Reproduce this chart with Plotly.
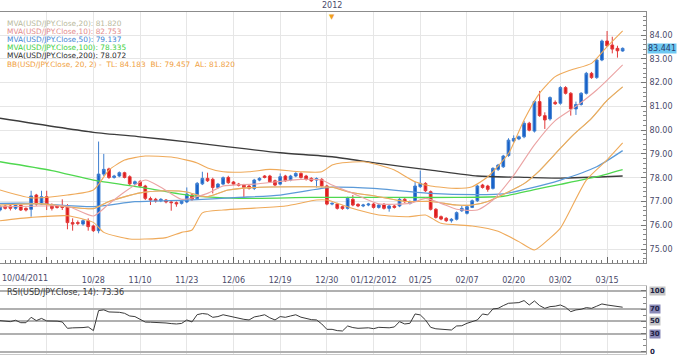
import pandas as pd
import plotly.graph_objects as go

# ---------------- data ----------------
dates = pd.bdate_range("2011-10-04", "2012-03-20")
idx = list(range(len(dates)))

opens = [76.64,76.81,76.81,76.71,76.85,76.71,76.67,77.27,76.89,77.20,76.85,76.81,76.81,76.78,76.11,76.11,76.05,76.19,75.97,75.77,
         78.15,78.37,78.01,78.07,78.21,78.04,77.74,77.83,77.65,77.12,77.09,77.03,77.06,76.98,76.95,76.92,76.98,77.27,77.12,77.74,
         77.97,77.93,77.59,77.73,78.01,77.82,77.73,77.69,77.65,77.55,77.90,78.07,78.07,77.87,77.73,78.07,77.90,78.07,78.18,78.07,
         77.97,77.90,77.93,77.65,76.89,76.89,76.78,76.71,77.09,76.88,76.81,76.85,76.89,76.75,76.88,76.71,76.81,76.81,77.09,76.92,
         77.03,77.62,77.76,77.41,76.67,76.36,76.29,76.19,76.25,76.61,76.50,76.75,77.03,77.69,77.65,77.55,78.35,78.46,78.93,79.54,
         79.63,79.72,80.29,79.96,81.20,80.61,80.47,81.17,81.13,81.79,81.55,80.89,81.08,81.55,82.39,82.21,82.95,83.75,83.58,83.44,
         83.33]
highs = [76.85,76.86,76.88,76.92,76.90,76.75,77.45,77.32,77.45,77.45,76.92,76.85,77.09,76.89,76.29,76.20,76.25,76.29,76.02,79.52,
         79.00,78.42,78.12,78.26,78.25,78.10,77.88,77.90,77.70,77.20,77.15,77.14,77.10,77.03,77.00,77.06,77.59,77.33,77.82,78.25,
         78.21,78.00,77.78,78.05,78.08,77.86,77.78,77.74,77.70,77.95,78.02,78.11,78.12,77.92,78.18,78.12,78.12,78.23,78.23,78.12,
         78.02,78.01,77.98,77.70,76.96,76.94,76.83,77.20,77.27,76.92,76.90,76.94,76.94,76.90,76.93,76.86,76.86,77.14,77.14,77.04,
         77.83,78.30,77.81,77.46,76.72,76.41,76.34,76.30,76.58,76.81,76.83,77.08,77.70,77.74,77.70,78.44,78.58,78.96,79.66,79.78,
         79.77,80.39,80.35,81.26,81.65,80.75,81.42,81.25,81.85,81.85,81.60,81.20,81.60,82.45,82.45,83.01,83.81,84.17,83.93,83.55,
         83.48]
lows = [76.58,76.66,76.62,76.65,76.60,76.58,76.36,76.82,76.85,76.64,76.62,76.70,76.64,75.83,75.77,76.00,75.98,75.77,75.72,75.66,
        78.07,77.95,77.96,78.02,77.97,77.68,77.68,77.59,77.06,76.85,76.95,76.97,76.92,76.61,76.78,76.87,76.93,77.03,77.06,77.69,
        77.82,77.34,77.54,77.68,77.74,77.68,77.63,77.13,77.50,77.48,77.85,77.97,77.78,77.64,77.68,77.82,77.85,78.02,77.96,77.88,
        77.82,77.59,77.60,76.84,76.84,76.66,76.65,76.66,76.80,76.76,76.76,76.80,76.70,76.70,76.66,76.57,76.70,76.76,76.94,76.87,
        76.98,77.57,77.40,76.62,76.28,76.21,76.14,76.11,76.20,76.56,76.45,76.72,76.98,77.54,77.41,77.50,78.28,78.41,78.88,79.48,
        79.58,79.66,79.95,79.90,80.56,80.05,80.40,81.06,81.07,81.50,80.61,80.64,81.03,81.50,82.16,82.16,82.90,83.50,83.23,83.05,
        83.30]
closes = [76.78,76.71,76.71,76.85,76.64,76.64,77.23,76.89,77.20,76.89,76.71,76.75,76.75,76.11,76.05,76.08,76.19,75.94,75.77,78.15,
          78.35,78.01,78.07,78.21,78.01,77.74,77.83,77.65,77.13,77.06,77.03,77.09,76.98,76.95,76.90,77.01,77.31,77.09,77.76,77.97,
          77.87,77.59,77.73,78.00,77.79,77.73,77.68,77.59,77.55,77.90,77.97,78.01,77.83,77.69,78.04,77.87,78.07,78.18,78.01,77.93,
          77.87,77.96,77.65,76.89,76.92,76.71,76.70,77.13,76.85,76.81,76.85,76.89,76.75,76.85,76.71,76.81,76.75,77.09,76.99,76.99,
          77.65,77.76,77.45,76.67,76.33,76.26,76.19,76.25,76.53,76.71,76.78,77.03,77.65,77.59,77.51,78.39,78.53,78.91,79.58,79.65,
          79.72,80.29,80.00,81.20,80.61,80.43,81.37,81.11,81.79,81.55,80.89,81.08,81.55,82.39,82.21,82.95,83.75,83.55,83.41,83.34,
          83.44]

# moving averages / bands, sampled where read
ma10_x = [0, 6, 13, 18, 21, 24, 28, 31, 35, 40, 43, 49, 58, 62, 64, 68, 73, 79, 82, 85, 88, 92, 95, 99, 103, 107, 111, 115, 120]
ma10_y = [76.78, 76.80, 76.80, 76.39, 76.90, 77.40, 77.90, 77.60, 77.09, 77.34, 77.65, 77.73, 77.93, 77.90, 77.69, 77.34, 76.90,
          76.92, 77.13, 76.92, 76.67, 76.64, 77.06, 78.10, 79.38, 80.40, 81.00, 81.69, 82.75]
ma50_x = [0, 6, 18, 26, 36, 46, 54, 64, 72, 83, 92, 97, 102, 108, 115, 120]
ma50_y = [76.92, 76.92, 76.78, 76.99, 77.06, 77.17, 77.27, 77.60, 77.55, 77.34, 77.29, 77.32, 77.55, 77.90, 78.46, 79.14]
ma100_x = [0, 10, 18, 27, 36, 46, 60, 75, 88, 97, 103, 108, 115, 120]
ma100_y = [78.67, 78.30, 77.90, 77.60, 77.27, 77.13, 77.17, 77.17, 77.17, 77.22, 77.50, 77.72, 78.04, 78.34]
ma200_x = [0, 18, 27, 36, 44, 54, 64, 73, 83, 92, 100, 108, 120]
ma200_y = [80.50, 79.91, 79.72, 79.51, 79.30, 79.05, 78.88, 78.60, 78.32, 78.07, 78.02, 77.98, 78.07]

bbm_x = [0, 8, 14, 18, 21, 27, 32, 36, 38, 40, 44, 50, 58, 64, 67, 73, 78, 83, 88, 91, 94, 97, 101, 104, 107, 110, 114, 117, 120]
bbm_y = [76.85, 76.90, 76.75, 76.70, 77.00, 77.36, 77.45, 77.40, 77.27, 77.20, 77.48, 77.60, 77.62, 77.60, 77.41, 77.20, 77.00,
         77.00, 76.85, 76.85, 77.00, 77.30, 77.75, 78.30, 79.00, 79.70, 80.50, 81.25, 81.82]
bbu_x = [0, 6, 13, 18, 21, 24, 28, 33, 36, 38, 40, 43, 48, 52, 58, 62, 64, 66, 70, 73, 76, 80, 83, 88, 91, 94, 98, 101, 104,
         107, 110, 114, 117, 120]
bbu_y = [77.48, 77.15, 77.27, 77.48, 78.32, 78.74, 78.91, 78.87, 78.74, 78.62, 78.41, 78.25, 78.25, 78.35, 78.25, 78.25, 78.53,
         78.63, 78.67, 78.53, 78.32, 77.83, 77.65, 77.55, 77.62, 78.04, 79.02, 80.43, 81.56, 82.25, 82.53, 82.81, 83.51, 84.18]
bbl_x = [0, 6, 13, 18, 20, 25, 28, 32, 35, 37, 39, 43, 49, 55, 61, 63, 66, 69, 73, 79, 82, 85, 91, 96, 100, 103, 106, 108,
         113, 117, 120]
bbl_y = [76.19, 76.33, 76.40, 76.12, 75.70, 75.42, 75.42, 75.48, 75.70, 75.80, 76.52, 76.64, 76.72, 76.81, 77.06, 77.06, 76.85,
         76.64, 76.43, 76.36, 76.43, 76.08, 75.97, 75.75, 75.31, 74.96, 75.46, 75.88, 77.90, 78.75, 79.46]

rsi = [51.4, 50.5, 49.7, 52, 48, 48, 56.8, 51.4, 55, 50.9, 50.9, 50.5, 49.2, 38.8, 39.5, 39.3, 40, 41, 35, 67.8,
       69, 65.6, 65.6, 65, 63.4, 59, 58, 54, 49, 48.8, 48.6, 48, 47.5, 46.5, 45.9, 46.8, 52.5, 49.2, 61.2, 63,
       62, 56.8, 58, 61, 59, 57, 55, 53.5, 52.5, 57.4, 59, 61, 56, 52.5, 58, 56.8, 59, 61, 57, 55,
       53, 52.5, 46, 37.1, 37.1, 35, 34.4, 42.6, 40, 38.8, 39.2, 39.6, 38.2, 40.4, 40, 39.6, 41, 49.7, 45.9, 47,
       62.3, 60.7, 52.5, 40.4, 38, 37.1, 36.5, 36, 42.6, 43, 47, 49.7, 52.5, 62.3, 60.7, 70.5, 71.5, 76, 79.8, 80.3,
       80.9, 84.2, 77, 83.6, 76, 71.5, 74.3, 75, 77, 73.2, 66.1, 68.9, 70, 72.7, 71.5, 75, 78.7, 77, 75.4, 74,
       73.36]

x_tick_idx = [0, 9, 18, 27, 36, 45, 54, 63, 72, 81, 90, 99, 108, 117]
x_tick_txt = ["", "", "10/28", "11/10", "11/23", "12/06", "12/19", "12/30", "01/12/2012", "01/25", "02/07", "02/20", "03/02", "03/15"]
first_label = "10/04/2011"
year_label = "2012"
year_idx = 64
y_ticks = [75, 76, 77, 78, 79, 80, 81, 82, 83, 84]
rsi_levels = [100, 70, 50, 30, 0]

legend_lines = [
    ("MVA(USD/JPY.Close,20): 81.820", "#b9b99c"),
    ("MVA(USD/JPY.Close,10): 82.753", "#e48a8a"),
    ("MVA(USD/JPY.Close,50): 79.137", "#3f86d6"),
    ("MVA(USD/JPY.Close,100): 78.335", "#3fd03f"),
    ("MVA(USD/JPY.Close,200): 78.072", "#2a2a2a"),
    ("BB(USD/JPY.Close, 20, 2) -  TL: 84.183  BL: 79.457  AL: 81.820", "#f0a040"),
]
last_price = "83.441"
rsi_label = "RSI(USD/JPY.Close, 14): 73.36"

# ---------------- figure ----------------
FONT = "DejaVu Sans"
FS = 8
LFS = 7.4
fig = go.Figure()

def line(xs, ys, color, width=1.1):
    fig.add_trace(go.Scatter(x=xs, y=ys, mode="lines", line=dict(color=color, width=width, shape="spline", smoothing=0.6),
                             hoverinfo="skip", showlegend=False, xaxis="x", yaxis="y"))

line(ma200_x, ma200_y, "#3c3c3c", 1.3)
line(ma100_x, ma100_y, "#4fd84f", 1.3)
line(ma50_x, ma50_y, "#5b9ad8", 1.3)
line(bbm_x, bbm_y, "#c8c8a8", 1.1)
line(bbu_x, bbu_y, "#efaa5a", 1.1)
line(bbl_x, bbl_y, "#efaa5a", 1.1)
line(bbm_x, bbm_y, "#efaa5a", 1.1)
line(ma10_x, ma10_y, "#eba3a3", 1.1)

fig.add_trace(go.Candlestick(
    x=idx, open=opens, high=highs, low=lows, close=closes,
    increasing=dict(line=dict(color="#3f7fd0", width=1), fillcolor="#1660c8"),
    decreasing=dict(line=dict(color="#e23a3a", width=1), fillcolor="#e01818"),
    whiskerwidth=0, showlegend=False, xaxis="x", yaxis="y", hoverinfo="skip"))

fig.add_trace(go.Scatter(x=idx, y=rsi, mode="lines", line=dict(color="#3a3a3a", width=1),
                         showlegend=False, xaxis="x2", yaxis="y2", hoverinfo="skip"))

grid = "#e6e6e6"
axcol = "#8c8c8c"
tickfont = dict(family=FONT, size=FS, color="#4a4a6a")

fig.update_layout(
    width=680, height=356,
    margin=dict(l=0, r=34, t=12, b=2),
    paper_bgcolor="white", plot_bgcolor="white",
    font=dict(family=FONT, size=FS, color="#4a4a6a"),
    showlegend=False, boxgap=0.25,
    xaxis=dict(domain=[0, 1], range=[0, 124.5], anchor="y", tickmode="array", tickvals=x_tick_idx, ticktext=x_tick_txt,
               showgrid=True, gridcolor=grid, gridwidth=1, showline=True, linecolor=axcol, linewidth=1, mirror=True,
               ticks="inside", ticklen=6, tickcolor="#666", tickfont=tickfont, ticklabelstandoff=9,
               minor=dict(tickmode="linear", tick0=0, dtick=1, ticks="inside", ticklen=3, tickcolor="#777", showgrid=False),
               rangeslider=dict(visible=False), zeroline=False, fixedrange=True),
    yaxis=dict(domain=[0.266, 1], range=[74.41, 84.97], anchor="x", side="right", tickmode="array", tickvals=y_ticks,
               ticktext=[f"{v:.2f}" for v in y_ticks], showgrid=True, gridcolor=grid, showline=True, linecolor=axcol,
               mirror=True, ticks="inside", ticklen=5, tickcolor="#777", tickfont=tickfont, ticklabelstandoff=1,
               minor=dict(tickmode="linear", tick0=74, dtick=0.2, ticks="inside", ticklen=3, tickcolor="#888", showgrid=False),
               zeroline=False),
    xaxis2=dict(domain=[0, 1], range=[0, 124.5], anchor="y2", matches="x", tickmode="array", tickvals=x_tick_idx,
                showticklabels=False, showgrid=True, gridcolor=grid, showline=True, linecolor="#c8c8c8", mirror=True,
                ticks="", zeroline=False),
    yaxis2=dict(domain=[0, 0.199], range=[-3.3, 108.2], anchor="x2", side="right", tickmode="array", tickvals=rsi_levels,
                showticklabels=False, showgrid=True, gridcolor="#b0b0b0", gridwidth=1.5, showline=True,
                linecolor="#a0a0a0", mirror=True, ticks="inside", ticklen=5, tickcolor="#777",
                minor=dict(tickmode="linear", tick0=0, dtick=10, ticks="inside", ticklen=3, tickcolor="#888", showgrid=False),
                zeroline=False),
)

ann = []
def py(pix):
    return (356 - 2 - pix) / 342.0

for k, (txt, col) in enumerate(legend_lines):
    ann.append(dict(text=txt, x=0.007, y=py(23.5 + 8.1 * k), xref="paper", yref="paper", xanchor="left", yanchor="middle",
                    showarrow=False, font=dict(family=FONT, size=LFS, color=col)))
ann.append(dict(text=rsi_label, x=0.007, y=py(292), xref="paper", yref="paper", xanchor="left", yanchor="middle",
                showarrow=False, font=dict(family=FONT, size=FS, color="#3a3a3a")))
ann.append(dict(text=first_label, x=0.0, y=py(278), xref="paper", yref="paper", xanchor="left", yanchor="middle",
                showarrow=False, font=tickfont))
ann.append(dict(text=year_label, x=year_idx, y=py(5), xref="x", yref="paper", xanchor="center", yanchor="middle",
                showarrow=False, font=dict(family=FONT, size=FS, color="#4a4a6a")))
ann.append(dict(text="▼", x=year_idx, y=py(17), xref="x", yref="paper", xanchor="center", yanchor="middle",
                showarrow=False, font=dict(family=FONT, size=7, color="#f0a020")))
ann.append(dict(text=last_price, x=1.0, y=float(last_price), xref="paper", yref="y", xanchor="left", yanchor="middle",
                xshift=1, showarrow=False, bgcolor="#6cc8f2", borderpad=0,
                font=dict(family=FONT, size=FS, color="#2a3a6a")))
rsi_bg = {100: "#c4c4c4", 70: "#8a8ab8", 50: "#c4c4c4", 30: "#8a8ab8", 0: "rgba(0,0,0,0)"}
for lv in rsi_levels:
    ann.append(dict(text=f"<b>{lv}</b>", x=1.0, y=lv, xref="paper", yref="y2", xanchor="left", yanchor="middle",
                    xshift=3, showarrow=False, bgcolor=rsi_bg[lv], borderpad=0,
                    font=dict(family=FONT, size=7, color="#222244")))
fig.update_layout(annotations=ann)

fig.write_html("out.html", config={"displayModeBar": False, "displaylogo": False},
               post_script="document.body.style.margin='0';document.body.style.padding='0';"
                           "document.documentElement.style.overflow='hidden';")
